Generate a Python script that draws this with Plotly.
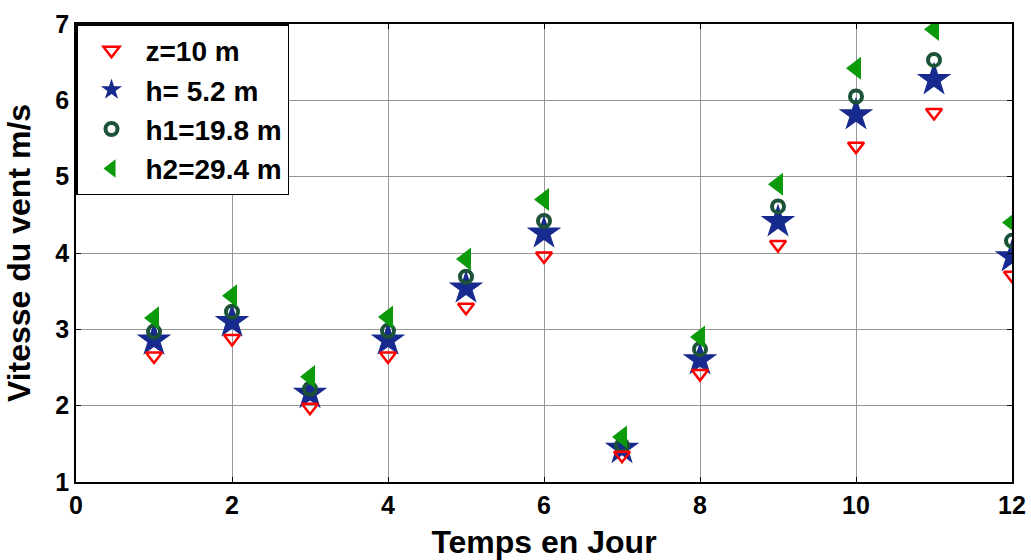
import plotly.graph_objects as go

days = [1, 2, 3, 4, 5, 6, 7, 8, 9, 10, 11, 12]
z10 = [2.65, 2.88, 1.98, 2.65, 3.29, 3.96, 1.35, 2.42, 4.11, 5.40, 5.84, 3.71]
h52 = [2.86, 3.10, 2.16, 2.86, 3.54, 4.26, 1.44, 2.60, 4.41, 5.81, 6.27, 3.95]
h198 = [2.97, 3.23, 2.22, 2.98, 3.69, 4.42, 1.48, 2.74, 4.61, 6.05, 6.53, 4.16]
h294 = [3.15, 3.44, 2.38, 3.16, 3.92, 4.70, 1.59, 2.90, 4.90, 6.42, 6.93, 4.40]

names = ["z=10 m", "h= 5.2 m", "h1=19.8 m", "h2=29.4 m"]
x_ticks = [0, 2, 4, 6, 8, 10, 12]
y_ticks = [1, 2, 3, 4, 5, 6, 7]

FONT = "Liberation Sans, Arial, sans-serif"

fig = go.Figure()
fig.add_trace(go.Scatter(
    x=days, y=h52, mode="markers", name=names[1], legendrank=2,
    marker=dict(symbol="star", size=26, color="#172a8e", line=dict(width=0)),
))
fig.add_trace(go.Scatter(
    x=days, y=h198, mode="markers", name=names[2], legendrank=3,
    marker=dict(symbol="circle-open", size=12, color="#1c5238", line=dict(width=4, color="#1c5238")),
))
fig.add_trace(go.Scatter(
    x=days, y=h294, mode="markers", name=names[3], legendrank=4,
    marker=dict(symbol="triangle-left", size=20, color="#0a9a0a", line=dict(width=0)),
))
fig.add_trace(go.Scatter(
    x=days, y=z10, mode="markers", name=names[0], legendrank=1,
    marker=dict(symbol="triangle-down-open", size=14, color="#ff0000", line=dict(width=2.5, color="#ff0000")),
))

axis_common = dict(
    showline=True, linecolor="black", linewidth=1.5, mirror="ticks",
    ticks="inside", ticklen=5, tickcolor="black", tickwidth=1,
    showgrid=True, gridcolor="rgb(150,150,150)", gridwidth=1,
    zeroline=False, automargin=False,
    tickfont=dict(family=FONT, size=25, color="black", weight="bold"),
)

fig.update_xaxes(
    range=[0, 12], tickvals=x_ticks, ticktext=[str(v) for v in x_ticks],
    title=dict(text="Temps en Jour", font=dict(family=FONT, size=32, color="black", weight="bold")),
    **axis_common,
)
fig.update_yaxes(
    range=[1, 7], tickvals=y_ticks, ticktext=[str(v) for v in y_ticks],
    title=dict(text="Vitesse du vent m/s", font=dict(family=FONT, size=32, color="black", weight="bold")),
    **axis_common,
)

fig.update_layout(
    width=1031, height=560,
    margin=dict(l=76, r=19, t=24, b=78),
    plot_bgcolor="white", paper_bgcolor="white",
    legend=dict(
        x=0, y=1, xanchor="left", yanchor="top",
        bgcolor="white", bordercolor="black", borderwidth=1.5,
        font=dict(family=FONT, size=28, color="black", weight="bold"),
        itemwidth=58, itemsizing="trace",
    ),
)

fig.write_html("out.html")
